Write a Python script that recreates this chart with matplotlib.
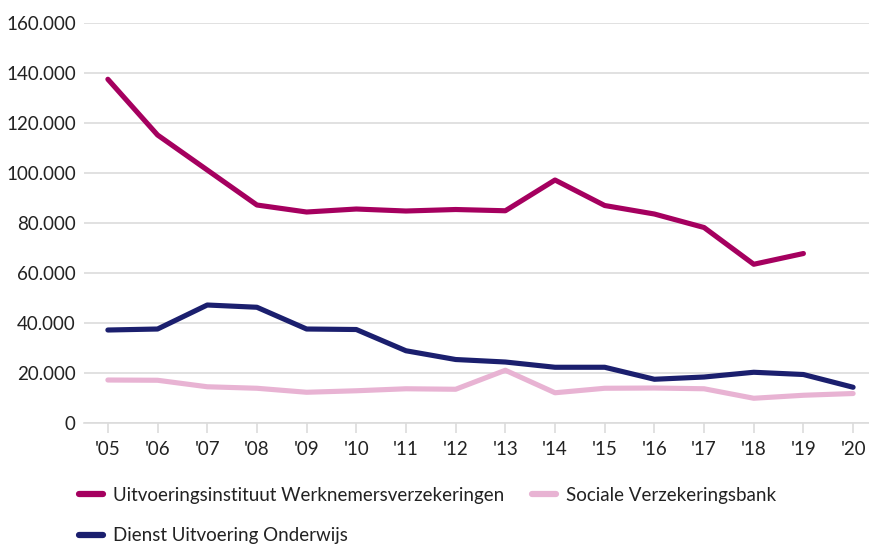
import matplotlib.pyplot as plt
from matplotlib.ticker import FuncFormatter

years = ["'05", "'06", "'07", "'08", "'09", "'10", "'11", "'12", "'13", "'14",
         "'15", "'16", "'17", "'18", "'19", "'20"]

uwv = [137500, 115200, 101200, 87200, 84400, 85600, 84800, 85400, 84900, 97200,
       87000, 83600, 78200, 63500, 67800]
svb = [17200, 17100, 14500, 13900, 12300, 12900, 13700, 13500, 21100, 12100,
       13900, 14000, 13700, 9900, 11100, 11800]
duo = [37200, 37600, 47200, 46300, 37600, 37400, 28900, 25400, 24400, 22300,
       22300, 17500, 18400, 20300, 19400, 14300]

c_uwv = '#A5005F'
c_svb = '#E8B3D3'
c_duo = '#1B1F6E'

plt.rcParams['font.family'] = ['Lato', 'DejaVu Sans']

fig = plt.figure(figsize=(8.69, 5.44), dpi=100)
ax = fig.add_axes([0.0967, 0.2224, 0.9033, 0.7353])

x = list(range(len(years)))
l1, = ax.plot(x[:len(uwv)], uwv, color=c_uwv, lw=3.7, solid_capstyle='round', solid_joinstyle='round', zorder=3)
l2, = ax.plot(x, svb, color=c_svb, lw=3.7, solid_capstyle='round', solid_joinstyle='round', zorder=2)
l3, = ax.plot(x, duo, color=c_duo, lw=3.7, solid_capstyle='round', solid_joinstyle='round', zorder=3)

ax.set_xlim(-0.48, 15.32)
ax.set_ylim(0, 160000)
ax.set_yticks(range(0, 160001, 20000))
ax.yaxis.set_major_formatter(FuncFormatter(lambda v, p: f"{int(v):,}".replace(',', '.')))
ax.set_xticks(x)
ax.set_xticklabels(years)

ax.grid(axis='y', color='#DCDCDC', lw=1.2, zorder=0)
ax.set_axisbelow(True)
for s in ['top', 'right', 'left']:
    ax.spines[s].set_visible(False)
ax.spines['bottom'].set_color('#DCDCDC')
ax.spines['bottom'].set_linewidth(1.2)

ax.tick_params(axis='y', length=0, pad=6, labelsize=13.5, labelcolor='#222222')
ax.tick_params(axis='x', length=7.2, width=1.2, color='#DCDCDC', pad=6, labelsize=13.5, labelcolor='#222222')

leg = fig.legend([l1, l3, l2],
                 ['Uitvoeringsinstituut Werknemersverzekeringen', 'Dienst Uitvoering Onderwijs',
                  'Sociale Verzekeringsbank'],
                 loc='upper left', bbox_to_anchor=(0.0909, 0.105), ncol=2, frameon=False,
                 fontsize=13.5, handlelength=1.28, handletextpad=0.53, labelspacing=1.25,
                 columnspacing=1.5, borderaxespad=0, borderpad=0)
for h in leg.legend_handles:
    h.set_linewidth(4.5)
    h.set_solid_capstyle('round')
for t in leg.get_texts():
    t.set_color('#222222')

fig.savefig('out.png', dpi=100)
